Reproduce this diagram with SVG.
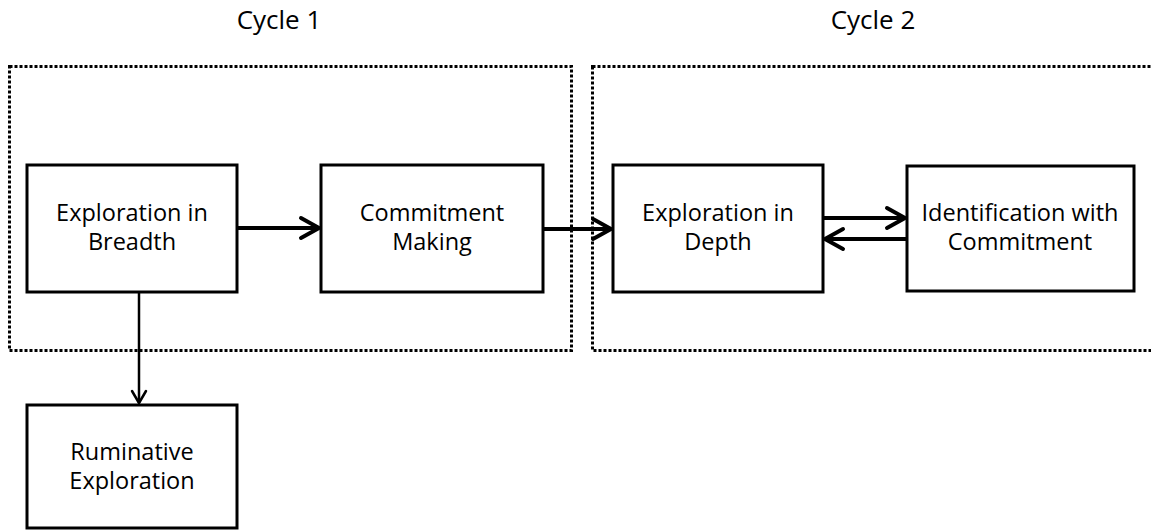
<svg xmlns="http://www.w3.org/2000/svg" width="1151" height="530" viewBox="0 0 1151 530">
  <style>
    .frame { fill: none; stroke: #000; stroke-width: 3; stroke-dasharray: 3 2; }
    .box { fill: #fff; stroke: #000; stroke-width: 3; }
    .label { font-family: "Open Sans", "Noto Sans", sans-serif; font-size: 23.5px; fill: #000; text-anchor: middle; }
    .title { font-size: 26px; }
    .thick { stroke: #000; stroke-width: 4; fill: none; }
    .thin { stroke: #000; stroke-width: 2.5; fill: none; }
  </style>
  <defs>
    <marker id="headThick" markerUnits="userSpaceOnUse" markerWidth="30" markerHeight="30" refX="21" refY="12" orient="auto" overflow="visible">
      <path d="M3 2 L21 12 L3 22" fill="none" stroke="#000" stroke-width="4" stroke-linecap="round" stroke-linejoin="round"/>
    </marker>
    <marker id="headThin" markerUnits="userSpaceOnUse" markerWidth="20" markerHeight="20" refX="14" refY="8" orient="auto" overflow="visible">
      <path d="M2 1 L14 8 L2 15" fill="none" stroke="#000" stroke-width="2.5" stroke-linecap="round" stroke-linejoin="round"/>
    </marker>
  </defs>

  <rect width="1151" height="530" fill="#fff"/>

  <!-- cycle frames -->
  <g id="cycle1">
    <rect class="frame" x="9.5" y="66.5" width="562" height="284"/>
    <text class="label title" x="279" y="29">Cycle 1</text>
  </g>
  <g id="cycle2">
    <rect class="frame" x="592.5" y="66.5" width="600" height="284"/>
    <text class="label title" x="873" y="29">Cycle 2</text>
  </g>

  <!-- connectors -->
  <g id="connectors">
    <line class="thick" x1="237" y1="228" x2="319" y2="228" marker-end="url(#headThick)"/>
    <line class="thick" x1="543" y1="229" x2="611" y2="229" marker-end="url(#headThick)"/>
    <line class="thick" x1="823" y1="218" x2="905" y2="218" marker-end="url(#headThick)"/>
    <line class="thick" x1="907" y1="239" x2="825" y2="239" marker-end="url(#headThick)"/>
    <line class="thin" x1="139" y1="292" x2="139" y2="403" marker-end="url(#headThin)"/>
  </g>

  <!-- nodes -->
  <g id="breadth">
    <rect class="box" x="27" y="165" width="210" height="127"/>
    <text class="label" x="132" y="221">Exploration in</text>
    <text class="label" x="132" y="250">Breadth</text>
  </g>
  <g id="commitment-making">
    <rect class="box" x="321" y="165" width="222" height="127"/>
    <text class="label" x="432" y="221">Commitment</text>
    <text class="label" x="432" y="250">Making</text>
  </g>
  <g id="depth">
    <rect class="box" x="613" y="165" width="210" height="127"/>
    <text class="label" x="718" y="221">Exploration in</text>
    <text class="label" x="718" y="250">Depth</text>
  </g>
  <g id="identification">
    <rect class="box" x="907" y="166" width="227" height="125"/>
    <text class="label" x="1020" y="221">Identification with</text>
    <text class="label" x="1020" y="250">Commitment</text>
  </g>
  <g id="ruminative">
    <rect class="box" x="27" y="405" width="210" height="123"/>
    <text class="label" x="132" y="460">Ruminative</text>
    <text class="label" x="132" y="489">Exploration</text>
  </g>
</svg>
